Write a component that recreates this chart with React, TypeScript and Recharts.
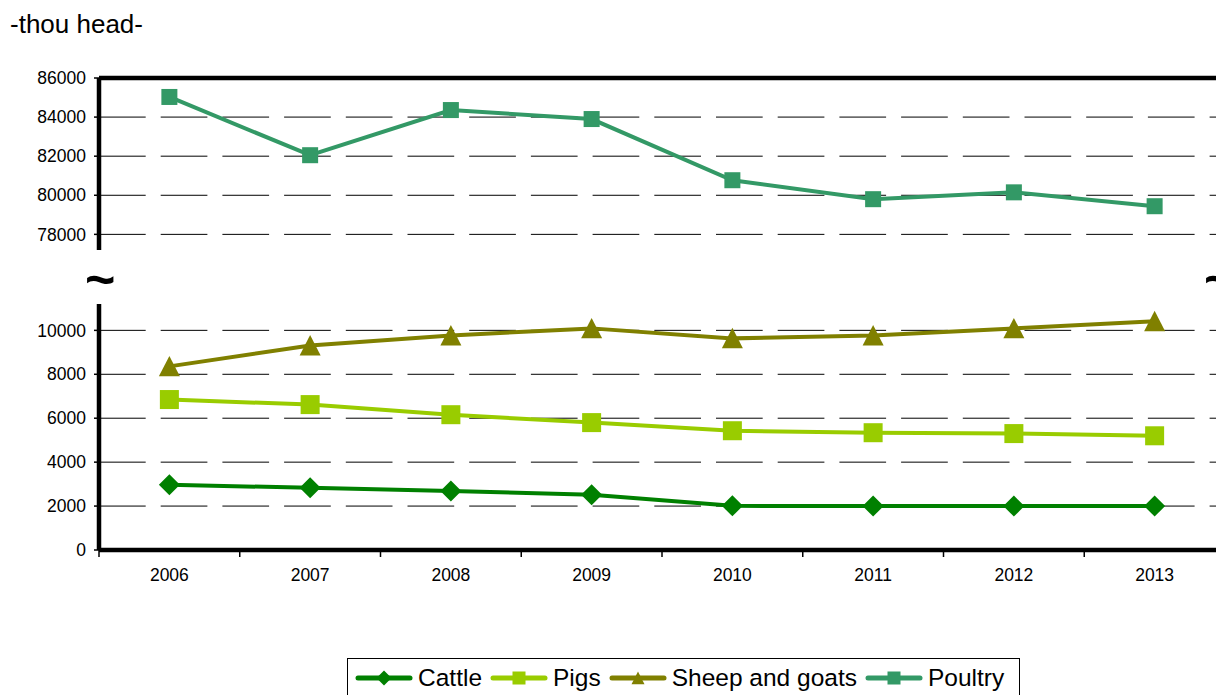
import React from "react";
import { LineChart, Line, XAxis, YAxis, ReferenceLine } from "recharts";

const years = ["2006", "2007", "2008", "2009", "2010", "2011", "2012", "2013"];
const cattle = [2970, 2830, 2690, 2510, 2010, 2000, 2000, 2000];
const pigs = [6850, 6620, 6160, 5800, 5430, 5340, 5300, 5200];
const sheepGoats = [8360, 9315, 9770, 10090, 9635, 9770, 10090, 10410];
const poultry = [85030, 82050, 84360, 83900, 80770, 79800, 80150, 79440];

const upperTicks = [78000, 80000, 82000, 84000, 86000];
const lowerTicks = [0, 2000, 4000, 6000, 8000, 10000];

const FONT = '"Liberation Sans", Arial, sans-serif';
const LEFT = 99;
const PLOT_W = 1126;
const CHART_W = LEFT + PLOT_W;
const HALF = PLOT_W / 16;
const DASH = "46.7 15";

const data = years.map((year, i) => ({
  year,
  cattle: cattle[i],
  pigs: pigs[i],
  sheepGoats: sheepGoats[i],
  poultry: poultry[i],
}));

type Marker = "diamond" | "square" | "triangle";

const series: { key: string; name: string; color: string; marker: Marker; size: number }[] = [
  { key: "cattle", name: "Cattle", color: "#008000", marker: "diamond", size: 10.5 },
  { key: "pigs", name: "Pigs", color: "#99CC00", marker: "square", size: 9.5 },
  { key: "sheepGoats", name: "Sheep and goats", color: "#808000", marker: "triangle", size: 10.5 },
  { key: "poultry", name: "Poultry", color: "#339966", marker: "square", size: 8 },
];

function markerShape(marker: Marker, cx: number, cy: number, r: number, fill: string, key?: any) {
  if (marker === "diamond") {
    return <path key={key} d={`M${cx},${cy - r}L${cx + r},${cy}L${cx},${cy + r}L${cx - r},${cy}Z`} fill={fill} />;
  }
  if (marker === "triangle") {
    return <path key={key} d={`M${cx},${cy - r}L${cx + r},${cy + r * 0.95}L${cx - r},${cy + r * 0.95}Z`} fill={fill} />;
  }
  return <rect key={key} x={cx - r} y={cy - r} width={r * 2} height={r * 2} fill={fill} />;
}

const makeDot = (s: (typeof series)[number]) => (props: any) =>
  markerShape(s.marker, props.cx, props.cy, s.size, s.color, `${s.key}-${props.index}`);

const YearTick = (props: any) => {
  const { x, y, payload } = props;
  return (
    <g>
      <line x1={x - HALF} x2={x - HALF} y1={y - 6} y2={y + 1} stroke="#000" strokeWidth={1.5} />
      <text x={x} y={y + 25} textAnchor="middle" fontSize={17.5} fill="#000" fontFamily={FONT}>
        {payload.value}
      </text>
    </g>
  );
};

const yTick = { fontSize: 17.5, fill: "#000", fontFamily: FONT };

export default function App() {
  const upper = series.filter((s) => s.key === "poultry");
  const lower = series.filter((s) => s.key !== "poultry");

  return (
    <div
      style={{
        position: "absolute",
        left: 0,
        top: 0,
        width: 1216,
        height: 695,
        overflow: "hidden",
        background: "#fff",
        fontFamily: FONT,
      }}
    >
      <div style={{ position: "absolute", left: 10, top: 11, fontSize: 26, lineHeight: 1 }}>-thou head-</div>

      <div style={{ position: "absolute", left: 0, top: 0 }}>
        <LineChart width={CHART_W} height={252} data={data} margin={{ top: 78, right: 0, bottom: 2, left: 0 }}>
          <XAxis dataKey="year" hide padding={{ left: HALF, right: HALF }} />
          <YAxis
            width={LEFT}
            domain={[77200, 86000]}
            ticks={upperTicks}
            allowDataOverflow
            tick={yTick}
            tickSize={5}
            tickMargin={8}
            tickLine={{ stroke: "#000", strokeWidth: 1.5 }}
            axisLine={{ stroke: "#000", strokeWidth: 4.5 }}
          />
          {upperTicks.slice(0, -1).map((v) => (
            <ReferenceLine key={v} y={v} stroke="#000" strokeWidth={1} strokeDasharray={DASH} />
          ))}
          <ReferenceLine y={86000} stroke="#000" strokeWidth={4.5} />
          {upper.map((s) => (
            <Line
              key={s.key}
              dataKey={s.key}
              name={s.name}
              stroke={s.color}
              strokeWidth={4}
              dot={makeDot(s)}
              activeDot={false}
              isAnimationActive={false}
            />
          ))}
        </LineChart>
      </div>

      <div style={{ position: "absolute", left: 0, top: 0 }}>
        <LineChart width={CHART_W} height={600} data={data} margin={{ top: 304, right: 0, bottom: 0, left: 0 }}>
          <XAxis
            dataKey="year"
            height={50}
            padding={{ left: HALF, right: HALF }}
            tick={<YearTick />}
            tickLine={false}
            tickSize={6}
            tickMargin={0}
            axisLine={{ stroke: "#000", strokeWidth: 4.5 }}
            interval={0}
          />
          <YAxis
            width={LEFT}
            domain={[0, 11200]}
            ticks={lowerTicks}
            allowDataOverflow
            tick={yTick}
            tickSize={5}
            tickMargin={8}
            tickLine={{ stroke: "#000", strokeWidth: 1.5 }}
            axisLine={{ stroke: "#000", strokeWidth: 4.5 }}
          />
          {lowerTicks.slice(1).map((v) => (
            <ReferenceLine key={v} y={v} stroke="#000" strokeWidth={1} strokeDasharray={DASH} />
          ))}
          {lower.map((s) => (
            <Line
              key={s.key}
              dataKey={s.key}
              name={s.name}
              stroke={s.color}
              strokeWidth={4}
              dot={makeDot(s)}
              activeDot={false}
              isAnimationActive={false}
            />
          ))}
        </LineChart>
      </div>

      <div style={{ position: "absolute", left: 85, top: 253, fontSize: 52, fontWeight: "bold", lineHeight: 1 }}>~</div>
      <div style={{ position: "absolute", left: 1204, top: 253, fontSize: 52, fontWeight: "bold", lineHeight: 1 }}>~</div>

      <div
        style={{
          position: "absolute",
          left: 347,
          top: 658,
          width: 673,
          height: 40,
          boxSizing: "border-box",
          border: "1px solid #000",
          display: "flex",
          alignItems: "center",
          paddingLeft: 7,
          fontSize: 24.5,
          whiteSpace: "nowrap",
        }}
      >
        {series.map((s) => (
          <div key={s.key} style={{ display: "flex", alignItems: "center", marginRight: 8 }}>
            <svg width={58} height={20}>
              <line x1={3} x2={55} y1={10} y2={10} stroke={s.color} strokeWidth={5} strokeLinecap="round" />
              {markerShape(s.marker, 29, 10, s.marker === "diamond" ? 7.5 : 6.5, s.color)}
            </svg>
            <span style={{ marginLeft: 5, lineHeight: 1 }}>{s.name}</span>
          </div>
        ))}
      </div>
    </div>
  );
}
